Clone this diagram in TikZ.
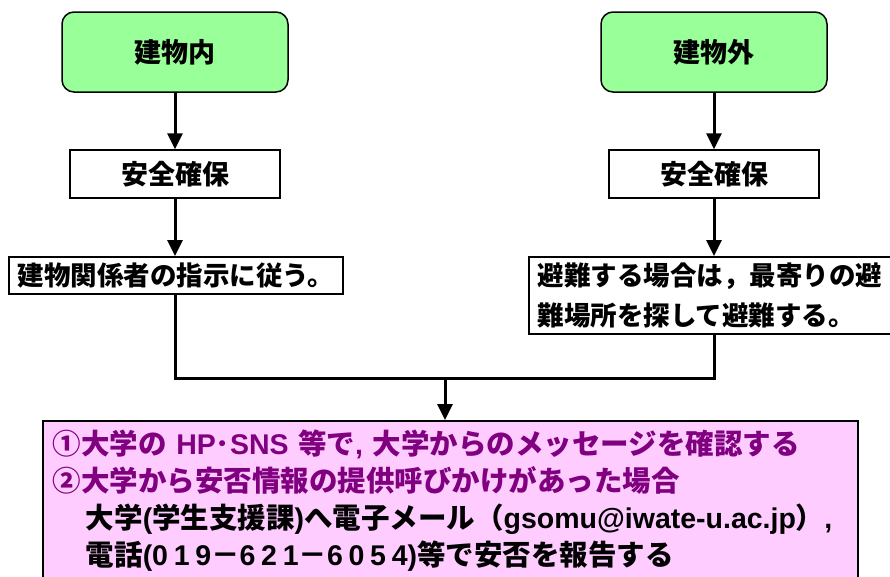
\documentclass[tikz,border=0pt]{standalone}
\usepackage{fontspec}
\setmainfont{Noto Sans CJK JP}
\newfontfamily\latinfont{Liberation Sans}
\newfontfamily\digitfont{Liberation Sans}[LetterSpace=20]
\usetikzlibrary{arrows.meta,positioning}

\definecolor{placeGreen}{RGB}{153,255,153}
\definecolor{notePink}{RGB}{255,204,255}
\definecolor{notePurple}{RGB}{128,0,128}

\newlength{\noteindent}
\setlength{\noteindent}{33pt}

\tikzset{
    placebox/.style={draw, line width=1.5pt, rounded corners=12pt, fill=placeGreen,
        minimum width=226pt, minimum height=80pt, font=\fontsize{27}{32}\selectfont\bfseries},
    safebox/.style={draw, line width=1.5pt, fill=white,
        minimum width=210pt, minimum height=48pt, font=\fontsize{27}{32}\selectfont\bfseries},
    actionbox/.style={draw, line width=1.5pt, fill=white, align=left,
        inner xsep=9pt, inner ysep=6pt, font=\fontsize{26.5}{40}\selectfont\bfseries},
    reportbox/.style={draw, line width=1.5pt, fill=notePink, align=left,
        text width=795pt, inner xsep=10pt, inner ysep=9pt,
        font=\fontsize{28.5}{37}\selectfont\bfseries},
    flow/.style={line width=3pt, -{Triangle[length=16pt,width=15pt]}},
    joinline/.style={line width=3pt},
}

\begin{document}
\begin{tikzpicture}[x=1pt, y=1pt]
    \clip (0,0) rectangle (890,-576);

    \node[placebox] (inside) at (175,-52) {建物内};
    \node[placebox] (outside) at (714,-52) {建物外};

    \node[safebox] (safeIn) at (175,-174) {安全確保};
    \node[safebox] (safeOut) at (714,-174) {安全確保};

    \node[actionbox, anchor=north west] (followIn) at (8,-256) {建物関係者の指示に従う。};
    \node[actionbox, anchor=north west, text width=354pt] (evacOut) at (528,-256)
        {避難する場合は，最寄りの避\\難場所を探して避難する。};

    \coordinate (join) at (445,-378);

    \node[reportbox, anchor=north west] (report) at (42,-420)
        {\textcolor{notePurple}{①大学の {\latinfont HP}･{\latinfont SNS} 等で{\latinfont ,} 大学からのメッセージを確認する}\\
         \textcolor{notePurple}{②大学から安否情報の提供呼びかけがあった場合}\\
         \hspace*{\noteindent}\mbox{大学{\latinfont (}学生支援課{\latinfont )}へ電子メール（{\latinfont gsomu@iwate-u.ac.jp}）{\latinfont ,}}\\
         \hspace*{\noteindent}電話{\latinfont (}{\digitfont 019}－{\digitfont 621}－{\digitfont 6054}{\latinfont )}等で安否を報告する\rule[-30pt]{0pt}{1pt}};

    \draw[flow] (inside) -- (safeIn);
    \draw[flow] (outside) -- (safeOut);
    \draw[flow] (safeIn) -- (safeIn |- followIn.north);
    \draw[flow] (safeOut) -- (safeOut |- evacOut.north);

    \draw[joinline] (safeIn |- followIn.south) |- (join) -| (safeOut |- evacOut.south);
    \draw[flow] (join) -- (join |- report.north);
\end{tikzpicture}
\end{document}
